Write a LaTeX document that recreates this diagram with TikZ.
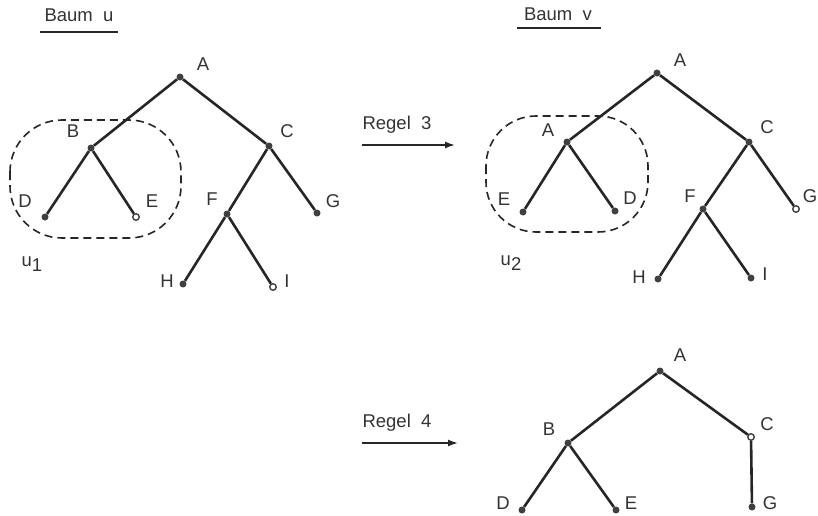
\documentclass[tikz,border=0pt]{standalone}
\usepackage{fontspec}
\setmainfont{Liberation Sans}
\usetikzlibrary{arrows.meta}
\begin{document}
\begin{tikzpicture}[x=1pt,y=-1pt,
  every node/.style={font=\fontsize{18.5}{20}\selectfont, text=black!80, inner sep=0pt},
  dot/.style={circle, fill=black!75, minimum size=7pt, inner sep=0pt},
  odot/.style={circle, draw=black!75, fill=white, line width=1.4pt, minimum size=6.5pt, inner sep=0pt},
  edge/.style={line width=2.6pt, black!85},
  ring/.style={line width=1.6pt, black!85, dash pattern=on 8pt off 5pt},
  arr/.style={line width=1.5pt, black!85, -{Latex[length=10pt,width=7pt]}},
  ul/.style={line width=1.5pt, black!85}]
\useasboundingbox (0,0) rectangle (818,515);
% ---------- Baum u ----------
\node (tu) at (79,15) {Baum\ \ u};
\coordinate (tul) at (40,32); \coordinate (tur) at (118,32);
\draw[ul] (tul) -- (tur);
\node[dot] (uA) at (180,77) {};
\node[dot] (uB) at (91,148) {};
\node[dot] (uC) at (269,146) {};
\node[dot] (uD) at (45,217) {};
\node[odot] (uE) at (136,217) {};
\node[dot] (uF) at (227,214) {};
\node[dot] (uG) at (317,213) {};
\node[dot] (uH) at (183,284) {};
\node[odot] (uI) at (273,287) {};
\draw[edge] (uA) -- (uB); \draw[edge] (uA) -- (uC);
\draw[edge] (uB) -- (uD); \draw[edge] (uB) -- (uE);
\draw[edge] (uC) -- (uF); \draw[edge] (uC) -- (uG);
\draw[edge] (uF) -- (uH); \draw[edge] (uF) -- (uI);
\node (luA) at (203,64) {A};
\node (luB) at (73,131) {B};
\node (luC) at (287,131) {C};
\node (luD) at (25,201) {D};
\node (luE) at (152,201) {E};
\node (luF) at (212,199) {F};
\node (luG) at (333,201) {G};
\node (luH) at (167,281) {H};
\node (luI) at (287,281) {I};
\draw[ring, rounded corners=52pt] (10,120) rectangle (181,238);
\node (u1) at (32,264) {u\raisebox{-5pt}{1}};
% ---------- Regel 3 ----------
\node (r3) at (397,125) {Regel\ \ 3};
\coordinate (r3a) at (362,145); \coordinate (r3b) at (455,145);
\draw[arr] (r3a) -- (r3b);
% ---------- Baum v ----------
\node (tv) at (558,14) {Baum\ \ v};
\coordinate (tvl) at (517,28); \coordinate (tvr) at (601,28);
\draw[ul] (tvl) -- (tvr);
\node[dot] (vA) at (657,73) {};
\node[dot] (vA2) at (567,142) {};
\node[dot] (vC) at (749,142) {};
\node[dot] (vE) at (523,212) {};
\node[dot] (vD) at (615,211) {};
\node[dot] (vF) at (703,209) {};
\node[odot] (vG) at (796,209) {};
\node[dot] (vH) at (658,279) {};
\node[dot] (vI) at (751,278) {};
\draw[edge] (vA) -- (vA2); \draw[edge] (vA) -- (vC);
\draw[edge] (vA2) -- (vE); \draw[edge] (vA2) -- (vD);
\draw[edge] (vC) -- (vF); \draw[edge] (vC) -- (vG);
\draw[edge] (vF) -- (vH); \draw[edge] (vF) -- (vI);
\node (lvA) at (680,60) {A};
\node (lvA2) at (548,130) {A};
\node (lvC) at (767,127) {C};
\node (lvE) at (504,199) {E};
\node (lvD) at (630,198) {D};
\node (lvF) at (690,196) {F};
\node (lvG) at (810,196) {G};
\node (lvH) at (639,277) {H};
\node (lvI) at (765,274) {I};
\draw[ring, rounded corners=50pt] (486,116) rectangle (648,232);
\node (u2) at (511,263) {u\raisebox{-5pt}{2}};
% ---------- Regel 4 ----------
\node (r4) at (397,423) {Regel\ \ 4};
\coordinate (r4a) at (362,443); \coordinate (r4b) at (458,443);
\draw[arr] (r4a) -- (r4b);
\node[dot] (wA) at (660,371) {};
\node[dot] (wB) at (568,443) {};
\node[odot] (wC) at (751,437) {};
\node[dot] (wD) at (522,510) {};
\node[dot] (wE) at (616,510) {};
\node[dot] (wG) at (752,507) {};
\draw[edge] (wA) -- (wB); \draw[edge] (wA) -- (wC);
\draw[edge] (wB) -- (wD); \draw[edge] (wB) -- (wE);
\draw[edge] (wC) -- (wG);
\node (lwA) at (680,355) {A};
\node (lwB) at (549,429) {B};
\node (lwC) at (767,424) {C};
\node (lwD) at (503,503) {D};
\node (lwE) at (631,503) {E};
\node (lwG) at (770,503) {G};
\end{tikzpicture}
\end{document}
